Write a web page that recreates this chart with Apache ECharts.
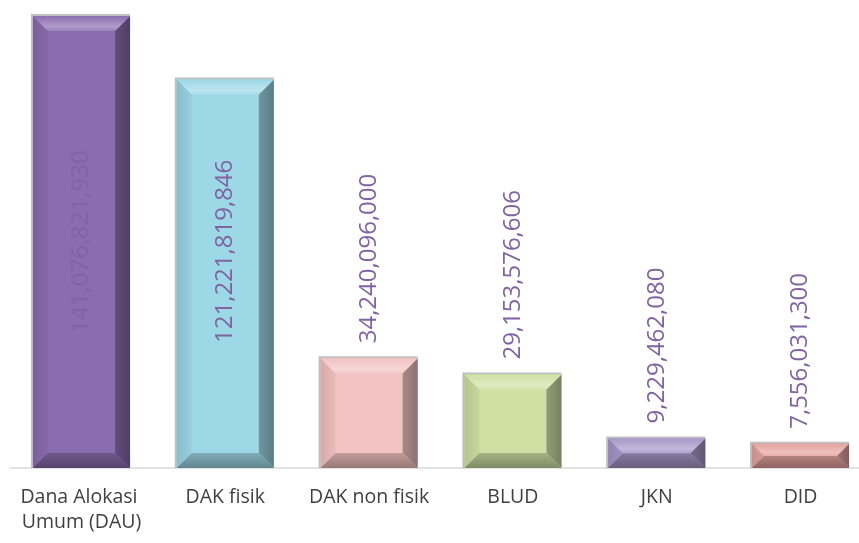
<!DOCTYPE html>
<html>
<head>
<meta charset="utf-8">
<script src="https://cdn.jsdelivr.net/npm/echarts@6/dist/echarts.min.js"></script>
<style>
html,body{margin:0;padding:0;background:#fff;}
#chart{width:859px;height:543px;}
</style>
</head>
<body>
<div id="chart"></div>
<script>
// ---- data ----
var categories = ['Dana Alokasi Umum (DAU)', 'DAK fisik', 'DAK non fisik', 'BLUD', 'JKN', 'DID'];
var values = [141076821930, 121221819846, 34240096000, 29153576606, 9229462080, 7556031300];

// ---- style ----
var barColors = ['#8A6DB0', '#9DD8E7', '#F2C3C2', '#CEE0A4', '#A797C8', '#E4A2A0'];
var labelColor = '#8064A2';
// label placement per bar: 'center' = middle of bar, 'base' = starts at offset above axis, 'top' = above bar
var labelMode = ['center', 'base', 'top', 'top', 'top', 'top'];

function fmt(v) {
  return v.toString().replace(/\B(?=(\d{3})+(?!\d))/g, ',');
}

// k > 0 : lighten toward white, k < 0 : darken
function shade(c, k) {
  var a = echarts.color.parse(c);
  var out = [];
  for (var i = 0; i < 3; i++) {
    out[i] = k >= 0 ? Math.round(a[i] + (255 - a[i]) * k) : Math.round(a[i] * (1 + k));
  }
  return 'rgb(' + out.join(',') + ')';
}

function renderItem(params, api) {
  var idx = api.value(0);
  var val = api.value(1);
  var topPt = api.coord([idx, val]);
  var basePt = api.coord([idx, 0]);
  var bw = api.size([1, 0])[0] * 0.675;
  var x0 = topPt[0] - bw / 2, x1 = topPt[0] + bw / 2;
  var y0 = topPt[1], y1 = basePt[1];
  var h = y1 - y0;
  var b = Math.min(15, h / 2, bw / 2);
  var c = barColors[idx];
  var children = [];
  // thin grey edge (top/left)
  children.push({type: 'rect', shape: {x: x0 - 2, y: y0 - 2, width: bw + 2, height: h + 2}, style: {fill: '#c0c0c0'}});
  // face
  children.push({type: 'rect', shape: {x: x0, y: y0, width: bw, height: h}, style: {fill: c}});
  // left bevel
  children.push({type: 'polygon', shape: {points: [[x0, y0], [x0 + b, y0 + b], [x0 + b, y1 - b], [x0, y1]]},
    style: {fill: new echarts.graphic.LinearGradient(0, 0, 1, 0, [
      {offset: 0, color: shade(c, -0.12)}, {offset: 1, color: shade(c, -0.04)}])}});
  // right bevel
  children.push({type: 'polygon', shape: {points: [[x1, y0], [x1 - b, y0 + b], [x1 - b, y1 - b], [x1, y1]]},
    style: {fill: new echarts.graphic.LinearGradient(1, 0, 0, 0, [
      {offset: 0, color: shade(c, -0.42)}, {offset: 1, color: shade(c, -0.3)}])}});
  // bottom bevel
  children.push({type: 'polygon', shape: {points: [[x0, y1], [x0 + b, y1 - b], [x1 - b, y1 - b], [x1, y1]]},
    style: {fill: new echarts.graphic.LinearGradient(0, 1, 0, 0, [
      {offset: 0, color: shade(c, -0.38)}, {offset: 1, color: shade(c, -0.2)}])}});
  // top bevel
  children.push({type: 'polygon', shape: {points: [[x0, y0], [x0 + b, y0 + b], [x1 - b, y0 + b], [x1, y0]]},
    style: {fill: new echarts.graphic.LinearGradient(0, 0, 0, 1, [
      {offset: 0, color: shade(c, 0.0)}, {offset: 0.7, color: shade(c, 0.32)}, {offset: 1, color: shade(c, 0.12)}])}});

  // value label
  var mode = labelMode[idx];
  var tx = topPt[0], ty, align;
  if (mode === 'center') { ty = (y0 + y1) / 2; align = 'center'; }
  else if (mode === 'base') { ty = y1 - 125; align = 'left'; }
  else { ty = y0 - 15; align = 'left'; }
  children.push({
    type: 'text', x: tx, y: ty, rotation: Math.PI / 2,
    style: {text: fmt(val), fill: labelColor, font: '24px "Open Sans"', align: align, verticalAlign: 'middle'}
  });
  return {type: 'group', children: children};
}

var chart = echarts.init(document.getElementById('chart'));
chart.setOption({
  animation: false,
  grid: [
    {left: 81.5, right: 58.5, top: 16, bottom: 75, containLabel: false, outerBoundsMode: 'none'},
    {left: 10, right: 0, top: 16, bottom: 75, containLabel: false, outerBoundsMode: 'none'}
  ],
  xAxis: [{
    type: 'category', data: categories, gridIndex: 0, boundaryGap: false,
    axisLine: {show: false},
    axisTick: {show: false},
    splitLine: {show: false},
    axisLabel: {color: '#404040', fontFamily: 'Open Sans', fontSize: 19.5, margin: 17, lineHeight: 25,
      width: 132, overflow: 'break', interval: 0}
  }, {
    type: 'value', gridIndex: 1, min: 0, max: 1,
    axisLine: {show: true, lineStyle: {color: '#d9d9d9', width: 1.5}},
    axisTick: {show: false}, axisLabel: {show: false}, splitLine: {show: false}
  }],
  yAxis: [
    {type: 'value', gridIndex: 0, min: 0, max: 'dataMax', show: false, splitLine: {show: false}},
    {type: 'value', gridIndex: 1, min: 0, max: 1, show: false, splitLine: {show: false}}
  ],
  series: [{
    type: 'custom',
    xAxisIndex: 0, yAxisIndex: 0,
    renderItem: renderItem,
    encode: {x: 0, y: 1},
    data: values.map(function (v, i) { return [i, v]; }),
    z: 1
  }, {
    type: 'line', xAxisIndex: 1, yAxisIndex: 1, data: [], silent: true
  }]
});
</script>
</body>
</html>
